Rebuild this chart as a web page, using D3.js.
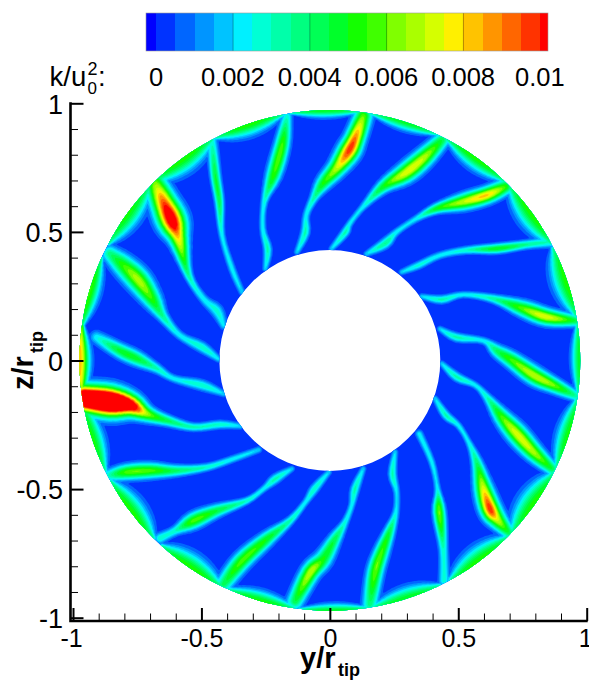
<!DOCTYPE html>
<html>
<head>
<meta charset="utf-8">
<script src="https://cdn.jsdelivr.net/npm/d3@7"></script>
<style>
body{margin:0;background:#fff;}
svg{display:block;}
text{font-family:"Liberation Sans",Arial,sans-serif;fill:#000;}
</style>
</head>
<body>
<svg id="vis" width="589" height="680"></svg>
<script>
// wake nodes: [y/rtip, z/rtip, k/u0^2, width]
var wakeA=[[-.680,.689,.0062,.04],[-.648,.617,.0095,.044],[-.615,.545,.0115,.047],[-.589,.474,.008,.034],[-.550,.331,.0035,.016],[-.492,.240,.0024,.016],[-.440,.194,.0028,.022],[-.414,.136,.0022,.014]];
var wakeB=[[-.856,.415,.0038,.03],[-.804,.370,.0055,.038],[-.745,.312,.0068,.04],[-.693,.240,.0055,.033],[-.648,.169,.0035,.02],[-.583,.097,.0024,.015],[-.498,.052,.003,.019],[-.434,.006,.0022,.012]];
var wakeC=[[-.908,.090,.0024,.024],[-.817,.038,.0048,.026],[-.752,.008,.0048,.026],[-.674,-.031,.0032,.018],[-.609,-.070,.0024,.014],[-.498,-.096,.003,.019],[-.414,-.129,.002,.012]];
var wakeD=[[-.953,-.148,.016,.047],[-.856,-.161,.017,.05],[-.778,-.174,.0125,.04],[-.713,-.207,.0068,.028],[-.635,-.233,.0044,.02],[-.531,-.259,.0032,.015],[-.427,-.249,.003,.015],[-.349,-.255,.002,.012]];
var wakeE=[[-.862,-.447,.003,.024],[-.791,-.434,.0058,.027],[-.700,-.428,.0058,.027],[-.596,-.428,.0042,.02],[-.479,-.415,.003,.014],[-.375,-.382,.0024,.013],[-.277,-.347,.002,.012]];
var wakeF=[[-.661,-.691,.003,.02],[-.602,-.662,.003,.018],[-.531,-.623,.0058,.028],[-.440,-.584,.0046,.023],[-.323,-.545,.003,.013],[-.258,-.499,.0024,.012],[-.212,-.460,.0032,.017],[-.148,-.421,.002,.011]];
var wakeG=[[-.414,-.870,.0042,.03],[-.342,-.779,.0058,.031],[-.245,-.694,.005,.026],[-.154,-.622,.0032,.015],[-.095,-.551,.0024,.012],[-.060,-.499,.003,.016],[-.004,-.434,.002,.011]];
var wakeH=[[-.135,-.935,.0045,.03],[-.076,-.824,.007,.031],[-.026,-.772,.0052,.031],[.020,-.694,.0044,.023],[.059,-.629,.0027,.014],[.085,-.564,.0024,.012],[.098,-.499,.0032,.016],[.130,-.421,.002,.011]];
var wakeI=[[.156,-.948,.0038,.028],[.176,-.824,.006,.028],[.201,-.746,.0057,.026],[.231,-.668,.0046,.02],[.257,-.590,.0024,.013],[.260,-.512,.0022,.012],[.244,-.441,.0032,.015],[.254,-.356,.002,.011]];
var wakeJ=[[.445,-.857,.0028,.02],[.442,-.733,.003,.017],[.426,-.590,.0062,.021],[.419,-.499,.0024,.012],[.397,-.395,.0024,.012],[.348,-.285,.0024,.014]];
var wakeK=[[.696,-.668,.0045,.024],[.650,-.616,.0075,.032],[.624,-.577,.01,.034],[.598,-.499,.0075,.031],[.572,-.395,.004,.02],[.540,-.317,.0024,.012],[.500,-.252,.0024,.012],[.452,-.213,.0032,.015],[.410,-.148,.002,.011]];
var wakeL=[[.865,-.421,.0045,.024],[.793,-.356,.0068,.031],[.728,-.285,.0074,.034],[.669,-.219,.0057,.028],[.611,-.142,.003,.016],[.566,-.096,.0024,.012],[.494,-.064,.0032,.016],[.436,-.012,.002,.011]];
var wakeM=[[.968,-.142,.003,.02],[.871,-.096,.0062,.026],[.793,-.057,.007,.031],[.708,.002,.0057,.028],[.650,.038,.0042,.023],[.598,.077,.0024,.013],[.494,.090,.0032,.016],[.429,.123,.002,.011]];
var wakeN=[[.956,.155,.0045,.022],[.845,.169,.0075,.028],[.754,.201,.006,.028],[.637,.240,.0034,.016],[.520,.256,.0024,.012],[.435,.237,.0032,.015],[.358,.249,.002,.011]];
var wakeO=[[.858,.461,.003,.02],[.767,.451,.0036,.016],[.650,.435,.005,.017],[.533,.429,.003,.014],[.429,.409,.0024,.013],[.345,.370,.0027,.014],[.280,.344,.002,.011]];
var wakeP=[[.683,.675,.0055,.028],[.611,.643,.0082,.028],[.520,.617,.007,.028],[.416,.591,.005,.018],[.338,.552,.0024,.013],[.260,.500,.0024,.013],[.215,.455,.0036,.018],[.143,.415,.002,.011]];
var wakeQ=[[.436,.857,.0045,.028],[.364,.786,.007,.033],[.293,.728,.0074,.033],[.208,.676,.005,.023],[.130,.598,.0024,.013],[.078,.533,.0024,.012],[.059,.497,.0032,.015],[.007,.435,.002,.011]];
var wakeR=[[.130,.949,.006,.032],[.098,.864,.0092,.033],[.072,.812,.0098,.036],[.026,.747,.007,.031],[-.026,.689,.0052,.026],[-.063,.630,.0033,.016],[-.092,.565,.0024,.013],[-.096,.497,.0032,.016],[-.128,.422,.002,.011]];
var wakeS=[[-.167,.949,.0028,.02],[-.186,.838,.0057,.026],[-.219,.721,.0054,.026],[-.255,.617,.0027,.013],[-.261,.513,.0024,.012],[-.242,.432,.0032,.015],[-.251,.357,.002,.011]];
var wakeT=[[-.459,.851,.0028,.02],[-.446,.721,.0046,.018],[-.430,.617,.0044,.016],[-.420,.487,.0024,.012],[-.381,.357,.0024,.013],[-.342,.266,.002,.012]];
var wakes=[wakeA,wakeB,wakeC,wakeD,wakeE,wakeF,wakeG,wakeH,wakeI,wakeJ,wakeK,wakeL,wakeM,wakeN,wakeO,wakeP,wakeQ,wakeR,wakeS,wakeT];

// outer wall patches between the wakes
var wallAngles=[109,91,72.5,54,36,18.5,0.5,-17,-35,-53,-72,-89,-106,-124,-143,-162,180,164,144,126];
var wallPeaks=[.0054,.005,.005,.0054,.0054,.0054,.005,.0052,.0054,.0054,.005,.005,.0052,.0054,.0054,.0052,.0085,.0056,.0052,.0054];
var wallWidths=[.041,.026,.03,.041,.05,.05,.03,.041,.055,.05,.041,.026,.036,.05,.05,.041,.035,.036,.047,.05];

var levels=[.0005,.001,.0015,.002,.0025,.003,.0035,.004,.0045,.005,.0055,.006,.0065,.007,.0075,.008,.0085,.009,.0095,.01];
var bandColors=["#0000ff","#0033ff","#0066ff","#0095ff","#00c3ff","#00f0ff","#00ffd5","#00ffaa","#00ff80","#00ff55","#00ff2a","#14ff00","#40ff00","#80ff00","#aaff00","#d5ff00","#fff000","#ffc300","#ff9500","#ff6600","#ff3300","#ff0000"];
var barTicks=[0,.002,.004,.006,.008,.01];
var axisTicks=[-1,-.5,0,.5,1];
var minorTicks=[-.9,-.8,-.7,-.6,-.4,-.3,-.2,-.1,.1,.2,.3,.4,.6,.7,.8,.9];
var rOuter=.975, rInner=.43;

var svg=d3.select("svg#vis");
var xScale=d3.scaleLinear().domain([-1,1]).range([73,586.7]);
var yScale=d3.scaleLinear().domain([-1,1]).range([617.7,103.3]);

wallAngles.forEach(function(a,i){
	var offs=[-8,-4,0,4,8], kEnv=[.7,.93,1,.93,.7], wEnv=[.25,.8,1,.8,.25];
	wakes.push(offs.map(function(o,j){
		var t=(a+o)*Math.PI/180;
		return [rOuter*Math.cos(t),rOuter*Math.sin(t),wallPeaks[i]*kEnv[j],wallWidths[i]*wEnv[j]];
	}));
});

// round the node polylines off before sampling
function rounded(w){
	var out=[];
	for(var i=0;i<w.length-1;i++){
		var p0=w[Math.max(i-1,0)], p1=w[i], p2=w[i+1], p3=w[Math.min(i+2,w.length-1)];
		for(var q=0;q<4;q++){
			var u=q/4;
			out.push(p1.map(function(c,m){
				return .5*(2*p1[m]+(p2[m]-p0[m])*u+(2*p0[m]-5*p1[m]+4*p2[m]-p3[m])*u*u+(3*p1[m]-p0[m]-3*p2[m]+p3[m])*u*u*u);
			}));
		}
	}
	out.push(w[w.length-1]);
	return out;
}

// scalar grid on the y,z plane
var step=.005, start=-1.02, nx=408, ny=408;
var values=new Float64Array(nx*ny);
var segs=[];
wakes.forEach(function(w0){
	var w=rounded(w0);
	for(var i=0;i<w.length-1;i++) segs.push([w[i],w[i+1]]);
});
for(var j=0;j<ny;j++){
	var gz=start+j*step;
	for(var i=0;i<nx;i++){
		var gy=start+i*step, rr=Math.sqrt(gy*gy+gz*gz);
		if(rr<.4||rr>1.0) continue;
		var best=0;
		for(var s=0;s<segs.length;s++){
			var a=segs[s][0], b=segs[s][1];
			var dx=b[0]-a[0], dy=b[1]-a[1];
			var t=((gy-a[0])*dx+(gz-a[1])*dy)/(dx*dx+dy*dy);
			t=Math.max(0,Math.min(1,t));
			var ex=gy-a[0]-t*dx, ey=gz-a[1]-t*dy;
			var d2=ex*ex+ey*ey;
			var w=a[3]+t*(b[3]-a[3]);
			if(d2>16*w*w) continue;
			var v=(a[2]+t*(b[2]-a[2]))*Math.exp(-d2/(w*w));
			if(v>best) best=v;
		}
		values[j*nx+i]=best;
	}
}

var rPx=(xScale(rOuter)-xScale(-rOuter))/2, rInPx=(xScale(rInner)-xScale(-rInner))/2;
var cx=xScale(0), cy=yScale(0);
var ring=d3.path();
ring.arc(cx,cy,rPx,0,2*Math.PI);
ring.moveTo(cx+rInPx,cy);
ring.arc(cx,cy,rInPx,0,2*Math.PI);
svg.append("clipPath").attr("id","annulus").append("path")
	.attr("d",ring.toString()).attr("clip-rule","evenodd");

var plot=svg.append("g").attr("clip-path","url(#annulus)");
plot.append("rect").attr("x",70).attr("y",100).attr("width",520).attr("height",520).attr("fill",bandColors[1]);

var project=d3.geoPath(d3.geoTransform({point:function(x,y){
	this.stream.point(xScale(start+(x-.5)*step),yScale(start+(y-.5)*step));
}}));
plot.selectAll("path.band")
	.data(d3.contours().size([nx,ny]).thresholds(levels)(values))
	.enter()
	.append("path")
	.attr("class","band")
	.attr("d",project)
	.attr("fill",function(d,i){return bandColors[i+2];});

// colour bar
var barScale=d3.scaleLinear().domain([0,.01]).range([156.3,540.2]);
var barEdges=[-.00027].concat([0],levels,[.0102]);
svg.selectAll("rect.swatch")
	.data(bandColors)
	.enter()
	.append("rect")
	.attr("class","swatch")
	.attr("x",function(d,i){return barScale(barEdges[i]);})
	.attr("y",13)
	.attr("width",function(d,i){return barScale(barEdges[i+1])-barScale(barEdges[i]);})
	.attr("height",38)
	.attr("fill",String)
	.attr("shape-rendering","crispEdges");
svg.selectAll("line.barline")
	.data(barTicks.slice(1,5))
	.enter()
	.append("line")
	.attr("class","barline")
	.attr("x1",barScale).attr("x2",barScale)
	.attr("y1",13).attr("y2",51)
	.attr("stroke","#000").attr("stroke-opacity",.3);
svg.append("rect").attr("x",146).attr("y",13).attr("width",402).attr("height",38)
	.attr("fill","none").attr("stroke","#999").attr("stroke-width",.6);
var barAxis=svg.append("g").attr("transform","translate(0,86)")
	.call(d3.axisBottom(barScale).tickValues(barTicks).tickSize(0).tickPadding(0).tickFormat(String));
barAxis.select(".domain").remove();
barAxis.selectAll("text").attr("y",0).attr("dy",0).attr("dx",-.8).style("font-size","25.5px").style("font-family","Liberation Sans");

svg.append("text").attr("x",49.5).attr("y",86).style("font-size","27.5px").text("k/u");
svg.append("text").attr("x",87.5).attr("y",75).style("font-size","18px").text("2");
svg.append("text").attr("x",87.5).attr("y",94).style("font-size","17px").text("0");
svg.append("text").attr("x",98).attr("y",86).style("font-size","27.5px").text(":");

// axes
function styleAxis(g){
	g.select(".domain").remove();
	g.selectAll("line").attr("stroke","#000");
	g.selectAll("text").style("font-family","Liberation Sans");
}
var bottom=svg.append("g").attr("transform","translate(0,621)");
bottom.call(d3.axisBottom(xScale).tickValues(axisTicks).tickSizeInner(-13).tickSizeOuter(0).tickPadding(-1).tickFormat(String)).call(styleAxis);
bottom.selectAll("line").attr("stroke-width",2);
bottom.selectAll("text").attr("y",26).attr("dy",0).style("font-size","25px");
bottom.selectAll("text").filter(function(d){return d==1;}).attr("dx",-1.5);
bottom.selectAll("text").filter(function(d){return d==-1;}).attr("dx",-2);
var bottomMinor=svg.append("g").attr("transform","translate(0,621)");
bottomMinor.call(d3.axisBottom(xScale).tickValues(minorTicks).tickSizeInner(-7.5).tickSizeOuter(0).tickFormat("")).call(styleAxis);

var left=svg.append("g").attr("transform","translate(70.5,0)");
left.call(d3.axisLeft(yScale).tickValues(axisTicks).tickSizeInner(-13).tickSizeOuter(0).tickPadding(0).tickFormat(String)).call(styleAxis);
left.selectAll("line").attr("stroke-width",2);
left.selectAll("text").attr("x",-7.5).attr("dy","0.36em").style("font-size","27px");
var leftMinor=svg.append("g").attr("transform","translate(70.5,0)");
leftMinor.call(d3.axisLeft(yScale).tickValues(minorTicks).tickSizeInner(-7.5).tickSizeOuter(0).tickFormat("")).call(styleAxis);

svg.append("path").attr("d","M70.5,102.3V621H587.7").attr("fill","none").attr("stroke","#000").attr("stroke-width",2.6);

svg.append("text").attr("x",300).attr("y",668).style("font-size","29px").style("font-weight","bold").text("y/r");
svg.append("text").attr("x",338).attr("y",676).style("font-size","18px").style("font-weight","bold").text("tip");
svg.append("g").attr("transform","translate(33,390) rotate(-90)").call(function(g){
	g.append("text").attr("x",0).attr("y",0).style("font-size","29px").style("font-weight","bold").text("z/r");
	g.append("text").attr("x",37).attr("y",10).style("font-size","18px").style("font-weight","bold").text("tip");
});
</script>
</body>
</html>
